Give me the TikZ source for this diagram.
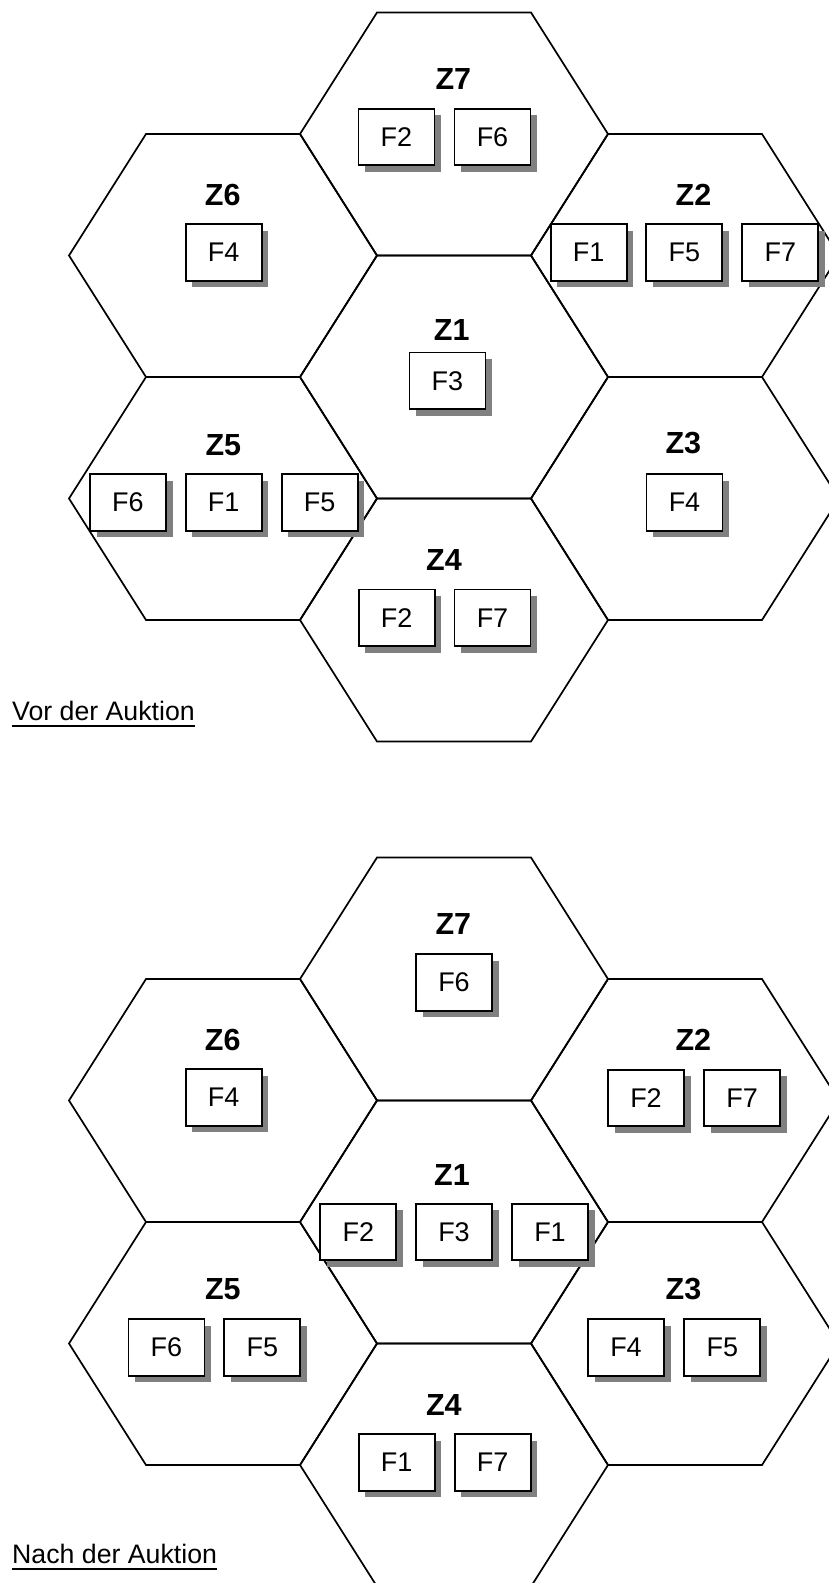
\documentclass[tikz,border=0pt]{standalone}
\usepackage{fontspec}
\setmainfont{Liberation Sans}
\usetikzlibrary{shadows}
\definecolor{shadowgray}{RGB}{128,128,128}
\tikzset{
  hexline/.style={line width=1.7pt, line join=miter},
  zlabel/.style={font=\fontsize{30.5}{30.5}\selectfont\bfseries, inner sep=0pt},
  fbox/.style={draw, line width=1.8pt, fill=white, minimum width=76pt, minimum height=56.5pt,
    inner sep=0pt, font=\fontsize{27}{27}\selectfont,
    drop shadow={shadow xshift=6.5pt, shadow yshift=-6.5pt, fill=shadowgray, opacity=1}},
  captiontext/.style={font=\fontsize{26.7}{26.7}\selectfont, inner sep=0pt, anchor=base west},
  underl/.style={line width=2.2pt},
}
\newcommand\hexcell[2]{\draw[hexline] ({#1-154},{#2}) -- ({#1-77},{#2-121.5}) -- ({#1+77},{#2-121.5}) -- ({#1+154},{#2}) -- ({#1+77},{#2+121.5}) -- ({#1-77},{#2+121.5}) -- cycle;}
\begin{document}
\begin{tikzpicture}[x=1pt,y=-1pt]
\useasboundingbox (0,0) rectangle (829,1583);
\clip (0,0) rectangle (829,1583);
\fill[white] (0,0) rectangle (829,1583);
% ---------- top: Vor der Auktion ----------
\foreach \cx/\cy in {454/134, 454/377, 454/620, 223/255.5, 223/498.5, 685/255.5, 685/498.5}{\hexcell{\cx}{\cy}}
\node[zlabel] (az7) at (453.3,79) {Z7};
\node[zlabel] (az6) at (222.7,195) {Z6};
\node[zlabel] (az2) at (693.5,195) {Z2};
\node[zlabel] (az1) at (451.7,330) {Z1};
\node[zlabel] (az5) at (223.3,445) {Z5};
\node[zlabel] (az3) at (683.3,443.3) {Z3};
\node[zlabel] (az4) at (444,560) {Z4};
\node[fbox] (a7a) at (396.5,137) {F2};
\node[fbox] (a7b) at (492.5,137) {F6};
\node[fbox] (a6a) at (223.7,252.5) {F4};
\node[fbox] (a2a) at (588.7,252.5) {F1};
\node[fbox] (a2b) at (684.3,252.5) {F5};
\node[fbox] (a2c) at (780.3,252.5) {F7};
\node[fbox] (a1a) at (447.5,380.8) {F3};
\node[fbox] (a5a) at (128,502.5) {F6};
\node[fbox] (a5b) at (223.7,502.5) {F1};
\node[fbox] (a5c) at (319.7,502.5) {F5};
\node[fbox] (a3a) at (684.5,502.5) {F4};
\node[fbox] (a4a) at (396.7,617.8) {F2};
\node[fbox] (a4b) at (492.5,617.8) {F7};
\node[captiontext] (cap1) at (12,720) {Vor der Auktion};
\draw[underl] ([yshift=-6pt]cap1.base west) -- ([yshift=-6pt]cap1.base east);
% ---------- bottom: Nach der Auktion ----------
\foreach \cx/\cy in {454/979, 454/1222, 454/1465, 223/1100.5, 223/1343.5, 685/1100.5, 685/1343.5}{\hexcell{\cx}{\cy}}
\node[zlabel] (bz7) at (453.3,924) {Z7};
\node[zlabel] (bz6) at (222.7,1040) {Z6};
\node[zlabel] (bz2) at (693.3,1040) {Z2};
\node[zlabel] (bz1) at (452,1175) {Z1};
\node[zlabel] (bz5) at (222.8,1289.3) {Z5};
\node[zlabel] (bz3) at (683.5,1289) {Z3};
\node[zlabel] (bz4) at (443.8,1405) {Z4};
\node[fbox] (b7a) at (454,982.5) {F6};
\node[fbox] (b6a) at (223.7,1097.5) {F4};
\node[fbox] (b2a) at (646,1098) {F2};
\node[fbox] (b2b) at (742,1098) {F7};
\node[fbox] (b1a) at (358.3,1232) {F2};
\node[fbox] (b1b) at (454,1232) {F3};
\node[fbox] (b1c) at (550,1232) {F1};
\node[fbox] (b5a) at (166.5,1347.5) {F6};
\node[fbox] (b5b) at (262.3,1347.5) {F5};
\node[fbox] (b3a) at (626,1347.5) {F4};
\node[fbox] (b3b) at (722.3,1347.5) {F5};
\node[fbox] (b4a) at (396.7,1462.5) {F1};
\node[fbox] (b4b) at (492.7,1462.5) {F7};
\node[captiontext] (cap2) at (12,1563) {Nach der Auktion};
\draw[underl] ([yshift=-6pt]cap2.base west) -- ([yshift=-6pt]cap2.base east);
\end{tikzpicture}
\end{document}
